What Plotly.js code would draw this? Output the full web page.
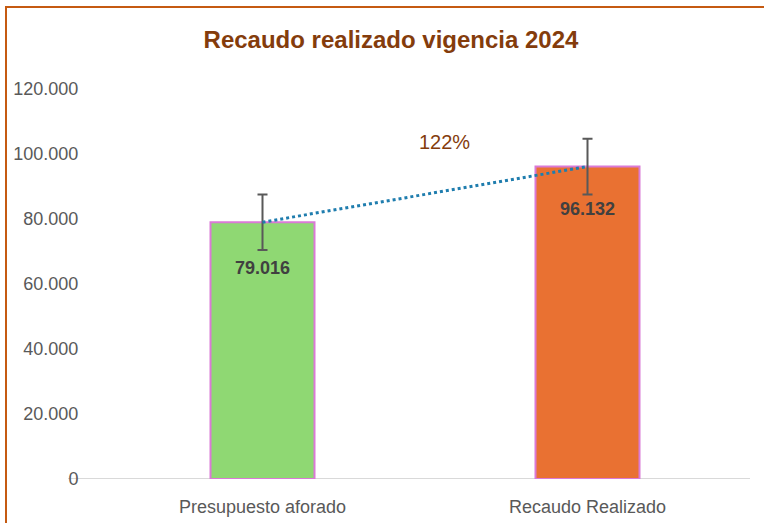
<!DOCTYPE html>
<html>
<head>
<meta charset="utf-8">
<script src="https://cdn.plot.ly/plotly-3.0.1.min.js"></script>
<style>
  html, body { margin: 0; padding: 0; background: #ffffff; }
  #chart { width: 764px; height: 523px; }
</style>
</head>
<body>
<div id="chart"></div>
<script>
// ---- Data ----
const categories = ["Presupuesto aforado", "Recaudo Realizado"];
const values = [79016, 96132];
const errorValues = [8558, 8558];
const barColors = ["#8FD873", "#E97132"];
const yTickValues = [0, 20000, 40000, 60000, 80000, 100000, 120000];
const chartTitle = "Recaudo realizado vigencia 2024";

const fmt = v => Math.round(v).toString().replace(/\B(?=(\d{3})+(?!\d))/g, ".");
const pct = Math.round(values[1] / values[0] * 100) + "%";

const L = 100, R = 14, T = 89, B = 44, W = 764, H = 523;
const pw = W - L - R, ph = H - T - B;
const px2paperX = p => (p - L) / pw;
const px2paperY = p => 1 - (p - T) / ph;

const bars = {
  type: "bar",
  x: [0, 1],
  y: values,
  width: 0.32,
  marker: { color: barColors, line: { color: "#DA7AD6", width: 2 } },
  error_y: { type: "data", array: errorValues, visible: true, color: "#595959", thickness: 2, width: 5 },
  hoverinfo: "skip"
};

const line = {
  type: "scatter",
  mode: "lines",
  x: [0, 1],
  y: values,
  line: { color: "#1F7DAE", width: 3, dash: "dot" },
  hoverinfo: "skip"
};

const annotations = values.map((v, i) => ({
  x: i, y: v, xref: "x", yref: "y",
  text: "<b>" + fmt(v) + "</b>",
  showarrow: false,
  yanchor: "middle",
  yshift: i === 0 ? -46 : -42,
  font: { family: "Liberation Sans, Arial, sans-serif", size: 18, color: "#404040" }
}));
annotations.push({
  x: 0.56, y: 103700, xref: "x", yref: "y",
  text: pct, showarrow: false,
  font: { family: "Liberation Sans, Arial, sans-serif", size: 20, color: "#843C0C" }
});

const layout = {
  width: W, height: H,
  margin: { l: L, r: R, t: T, b: B, pad: 0 },
  paper_bgcolor: "#ffffff",
  plot_bgcolor: "#ffffff",
  separators: ",.",
  showlegend: false,
  title: {
    text: "<b>" + chartTitle + "</b>",
    x: 391 / W, xref: "container", xanchor: "center",
    y: 1 - 40 / H, yref: "container", yanchor: "middle",
    font: { family: "Liberation Sans, Arial, sans-serif", size: 24, color: "#843C0C" }
  },
  xaxis: {
    range: [-0.5, 1.5],
    tickmode: "array",
    tickvals: [0, 1],
    ticktext: categories,
    showgrid: false, zeroline: false, showline: false,
    ticks: "outside", ticklen: 11, tickcolor: "rgba(0,0,0,0)",
    tickfont: { family: "Liberation Sans, Arial, sans-serif", size: 18, color: "#595959" },
    fixedrange: true
  },
  yaxis: {
    range: [0, 120000],
    tickmode: "array",
    tickvals: yTickValues,
    ticktext: yTickValues.map(fmt),
    showgrid: false, zeroline: false, showline: false,
    ticks: "outside", ticklen: 17, tickcolor: "rgba(0,0,0,0)",
    tickfont: { family: "Liberation Sans, Arial, sans-serif", size: 18, color: "#595959" },
    fixedrange: true
  },
  shapes: [
    { type: "line", xref: "paper", yref: "y", x0: px2paperX(68), x1: 1, y0: 0, y1: 0,
      line: { color: "#D9D9D9", width: 2 }, layer: "below" },
    { type: "line", xref: "paper", yref: "paper", x0: px2paperX(6), x1: px2paperX(6),
      y0: px2paperY(7), y1: px2paperY(530), line: { color: "#C55A11", width: 2 } },
    { type: "line", xref: "paper", yref: "paper", x0: px2paperX(5), x1: px2paperX(770),
      y0: px2paperY(7), y1: px2paperY(7), line: { color: "#C55A11", width: 2 } }
  ],
  annotations: annotations
};

Plotly.newPlot("chart", [bars, line], layout, { staticPlot: true, displayModeBar: false });
</script>
</body>
</html>
